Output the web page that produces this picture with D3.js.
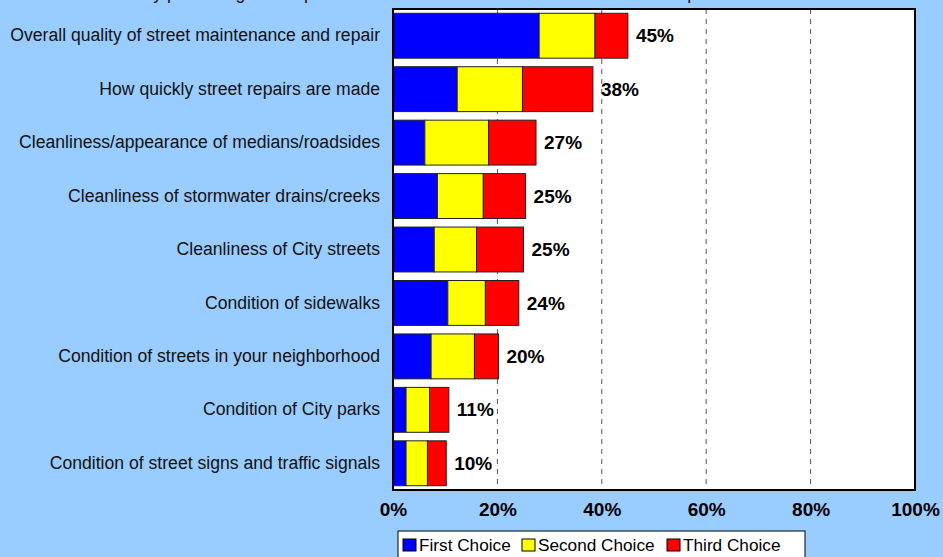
<!DOCTYPE html>
<html>
<head>
<meta charset="utf-8">
<script src="https://cdn.jsdelivr.net/npm/d3@7"></script>
<style>
  body { margin: 0; background: #99ccff; }
  svg { display: block; font-family: "Liberation Sans", Arial, sans-serif; }
</style>
</head>
<body>
<svg id="chart" width="943" height="557"></svg>
<script>
// survey items, top to bottom
const items = [
  "Overall quality of street maintenance and repair",
  "How quickly street repairs are made",
  "Cleanliness/appearance of medians/roadsides",
  "Cleanliness of stormwater drains/creeks",
  "Cleanliness of City streets",
  "Condition of sidewalks",
  "Condition of streets in your neighborhood",
  "Condition of City parks",
  "Condition of street signs and traffic signals"
];
const firstChoice  = [28.0, 12.3, 6.1, 8.5, 7.9, 10.5, 7.3, 2.5, 2.5];
const secondChoice = [10.7, 12.5, 12.2, 8.8, 8.1, 7.2, 8.3, 4.5, 4.1];
const thirdChoice  = [6.3, 13.5, 9.1, 8.1, 9.0, 6.4, 4.6, 3.7, 3.6];
const totals = ["45%", "38%", "27%", "25%", "25%", "24%", "20%", "11%", "10%"];
const seriesNames = ["First Choice", "Second Choice", "Third Choice"];
const colors = ["#0000ff", "#ffff00", "#ff0000"];
const xTicks = [0, 20, 40, 60, 80, 100];

const svg = d3.select("#chart");
const margin = {top: 9, left: 393, right: 28, bottom: 67};
const width = 943 - margin.left - margin.right,
      height = 557 - margin.top - margin.bottom;

// title (cut off at the top of the picture, only descenders show)
svg.append("text")
    .attr("x", 78).attr("y", -1.5)
    .style("font-size", "17.6px")
    .attr("fill", "#111")
    .text("Ranked by percentage of respondents who selected the item as one of their top three choices");

const g = svg.append("g")
    .attr("transform", "translate(" + margin.left + "," + margin.top + ")");

const x = d3.scaleLinear().domain([0, 100]).range([0, width]);
const y = d3.scaleBand().domain(items).range([0, height]).paddingInner(0.16).paddingOuter(0.08);

g.append("rect")
    .attr("width", width).attr("height", height)
    .attr("fill", "#fff");

// dashed gridlines
g.selectAll(".grid")
    .data(xTicks.slice(1, -1))
  .enter().append("line")
    .attr("x1", d => x(d)).attr("x2", d => x(d))
    .attr("y1", 0).attr("y2", height)
    .attr("stroke", "#555")
    .attr("stroke-width", 1)
    .attr("stroke-dasharray", "5,5");

// stack the three choices
const rows = items.map((d, i) => ({item: d, s0: firstChoice[i], s1: secondChoice[i], s2: thirdChoice[i]}));
const stacked = d3.stack().keys(["s0", "s1", "s2"])(rows);

g.selectAll(".series")
    .data(stacked)
  .enter().append("g")
    .attr("fill", (d, i) => colors[i])
  .selectAll("rect")
    .data(d => d)
  .enter().append("rect")
    .attr("x", d => x(d[0]))
    .attr("y", d => y(d.data.item))
    .attr("width", d => x(d[1]) - x(d[0]))
    .attr("height", y.bandwidth())
    .attr("stroke", "#222")
    .attr("stroke-width", 1);

// total labels
g.selectAll(".total")
    .data(rows)
  .enter().append("text")
    .attr("x", (d, i) => x(d.s0 + d.s1 + d.s2) + 8)
    .attr("y", d => y(d.item) + y.bandwidth() / 2)
    .attr("dy", "0.35em")
    .style("font-size", "19px")
    .style("font-weight", "bold")
    .text((d, i) => totals[i]);

// plot border
g.append("rect")
    .attr("width", width).attr("height", height)
    .attr("fill", "none")
    .attr("stroke", "#000")
    .attr("stroke-width", 2);

// category labels
const yAxis = d3.axisLeft(y).tickSize(0).tickPadding(13);
const ya = g.append("g").call(yAxis);
ya.select(".domain").remove();
ya.selectAll("text").style("font-size", "17.6px").attr("fill", "#111").attr("font-family", null);

// x axis labels
const xAxis = d3.axisBottom(x).tickValues(xTicks).tickSize(0).tickPadding(13).tickFormat(d => d + "%");
const xa = g.append("g").attr("transform", "translate(0," + height + ")").call(xAxis);
xa.select(".domain").remove();
xa.selectAll("text").style("font-size", "19px").style("font-weight", "bold").attr("fill", "#000").attr("font-family", null);

// legend
const legend = svg.append("g").attr("transform", "translate(398,531)");
legend.append("rect")
    .attr("width", 407).attr("height", 30)
    .attr("fill", "#fff").attr("stroke", "#000").attr("stroke-width", 1);
const legendX = [5, 124, 269];
seriesNames.forEach((name, i) => {
  legend.append("rect")
      .attr("x", legendX[i]).attr("y", 8)
      .attr("width", 13).attr("height", 12)
      .attr("fill", colors[i]).attr("stroke", "#000");
  legend.append("text")
      .attr("x", legendX[i] + 16).attr("y", 14)
      .attr("dy", "0.35em")
      .style("font-size", "17.2px")
      .text(name);
});
</script>
</body>
</html>
